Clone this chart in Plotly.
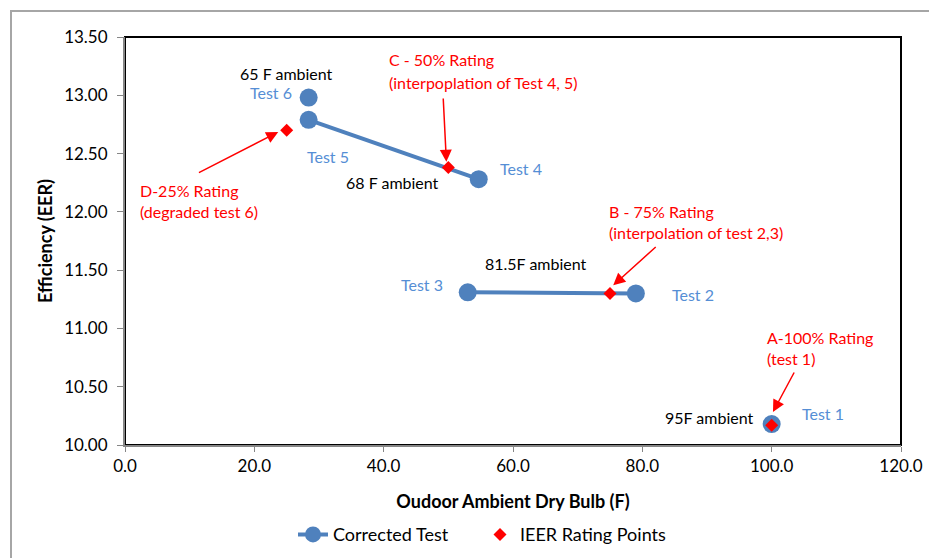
import plotly.graph_objects as go

# ---- data ----
test_labels = ["Test 1", None, "Test 2", "Test 3", None, "Test 4", "Test 5", None, "Test 6"]
test_x = [100.0, None, 79.0, 53.0, None, 54.7, 28.4, None, 28.4]
test_y = [10.18, None, 11.30, 11.31, None, 12.28, 12.79, None, 12.98]

rating_labels = ["A-100%", "B-75%", "C-50%", "D-25%"]
rating_x = [100.0, 75.0, 50.0, 25.0]
rating_y = [10.17, 11.30, 12.38, 12.70]

x_ticks = [0, 20, 40, 60, 80, 100, 120]
y_ticks = [10.0, 10.5, 11.0, 11.5, 12.0, 12.5, 13.0, 13.5]

FONT = "Lato, Carlito, Calibri, sans-serif"
BLUE = "#4F81BD"
LBLUE = "#558ED5"
RED = "#FF0000"

fig = go.Figure()
fig.add_trace(go.Scatter(
    x=test_x, y=test_y, mode="lines+markers", name="Corrected Test",
    line=dict(color=BLUE, width=4), marker=dict(color=BLUE, size=18),
    connectgaps=False,
))
fig.add_trace(go.Scatter(
    x=rating_x, y=rating_y, mode="markers", name="IEER Rating Points",
    marker=dict(color=RED, size=10, symbol="diamond"),
))

annotations = []
def txt(x, y, s, color, xanchor="center"):
    annotations.append(dict(x=x, y=y, xref="x", yref="y", text=s, showarrow=False,
                            xanchor=xanchor, yanchor="middle",
                            font=dict(family=FONT, size=16, color=color)))

txt(24.9, 13.191, "65 F ambient", "black")
txt(22.6, 13.028, "Test 6", LBLUE)
txt(31.4, 12.479, "Test 5", LBLUE)
txt(41.3, 12.248, "68 F ambient", "black")
txt(61.2, 12.376, "Test 4", LBLUE)
txt(40.5, 13.303, "C - 50% Rating", RED, "left")
txt(40.5, 13.114, "(interpoplation of Test 4, 5)", RED, "left")
txt(2.0, 12.187, "D-25% Rating", RED, "left")
txt(2.0, 12.007, "(degraded test 6)", RED, "left")
txt(74.5, 12.007, "B - 75% Rating", RED, "left")
txt(74.5, 11.827, "(interpolation of test 2,3)", RED, "left")
txt(63.6, 11.561, "81.5F ambient", "black")
txt(45.85, 11.373, "Test 3", LBLUE)
txt(87.8, 11.295, "Test 2", LBLUE)
txt(98.95, 10.926, "A-100% Rating", RED, "left")
txt(98.95, 10.746, "(test 1)", RED, "left")
txt(90.4, 10.24, "95F ambient", "black")
txt(107.9, 10.266, "Test 1", LBLUE)

def arrow(x, y, ax, ay):
    annotations.append(dict(x=x, y=y, ax=ax, ay=ay, xref="x", yref="y", axref="x", ayref="y",
                            text="", showarrow=True, arrowhead=2, arrowsize=1.6,
                            arrowwidth=1.5, arrowcolor=RED))

arrow(49.7, 12.43, 49.2, 12.985)
arrow(23.7, 12.685, 11.2, 12.33)
arrow(75.5, 11.37, 82.3, 11.71)
arrow(100.2, 10.283, 103.6, 10.635)

fig.update_layout(
    width=929, height=558,
    margin=dict(l=125, r=28, t=37, b=113, autoexpand=False),
    paper_bgcolor="white", plot_bgcolor="white",
    font=dict(family=FONT, size=16, color="black"),
    showlegend=True,
    legend=dict(orientation="h", x=0.2165, xanchor="left", y=-0.22, yanchor="middle",
                font=dict(family=FONT, size=18, color="black"), entrywidth=142),
    annotations=annotations,
    shapes=[
        dict(type="rect", xref="paper", yref="paper", x0=0, y0=0, x1=1, y1=1,
             line=dict(color="black", width=2), layer="below"),
        dict(type="rect", xref="paper", yref="paper", x0=-0.1469, y0=-0.4, x1=1.2, y1=1.0637,
             line=dict(color="#A6A6A6", width=2), layer="below"),
    ],
)
fig.update_xaxes(
    range=[0, 120], tickvals=x_ticks, ticktext=[f"{v:.1f}" for v in x_ticks],
    showgrid=False, zeroline=False, showline=True, linecolor="#868686", linewidth=2,
    ticks="outside", ticklen=5, tickcolor="#868686", tickwidth=1,
    ticklabeloverflow="allow",
    tickfont=dict(family=FONT, size=17, color="black"),
    title=dict(text="<b>Oudoor Ambient Dry Bulb (F)</b>", standoff=20,
               font=dict(family=FONT, size=18, color="black")),
    automargin=False,
)
fig.update_yaxes(
    range=[10.0, 13.5], tickvals=y_ticks, ticktext=[f"{v:.2f}" for v in y_ticks],
    showgrid=False, zeroline=False, showline=True, linecolor="#868686", linewidth=2,
    ticks="outside", ticklen=6, tickcolor="#868686", tickwidth=1, ticklabelstandoff=6,
    tickfont=dict(family=FONT, size=17, color="black"),
    title=dict(text="<b>Efficiency (EER)</b>", standoff=7,
               font=dict(family=FONT, size=18, color="black")),
    automargin=False,
)

# remove the default page margin and scrollbars so the figure fills the window exactly
fig.write_html(
    "out.html",
    config={"displayModeBar": False},
    post_script="document.body.style.margin='0';"
                "document.documentElement.style.overflow='hidden';"
                "document.body.style.overflow='hidden';",
)
